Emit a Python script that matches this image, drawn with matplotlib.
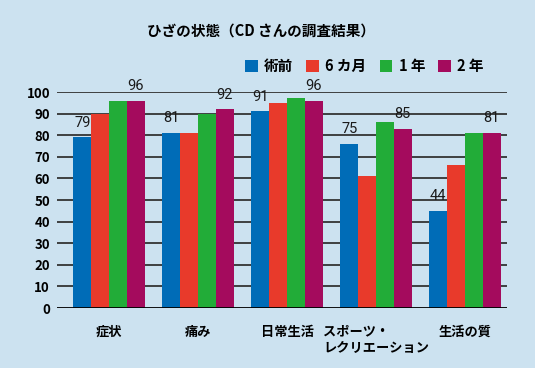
import matplotlib.pyplot as plt
import numpy as np

plt.rcParams['font.family'] = ['Noto Sans CJK JP', 'DejaVu Sans']

categories = ['症状', '痛み', '日常生活', 'スポーツ・\nレクリエーション', '生活の質']
series_names = ['術前', '6 カ月', '1 年', '2 年']
before = [79, 81, 91, 76, 45]
month6 = [90, 81, 95, 61, 66]
year1 = [96, 90, 97, 86, 81]
year2 = [96, 92, 96, 83, 81]
# numbers printed above the bars (術前 and 2 年)
before_labels = ['79', '81', '91', '75', '44']
year2_labels = ['96', '92', '96', '85', '81']

colors = ['#006cb7', '#e83a2b', '#22ac38', '#a40b5d']
bg = '#cce2f0'

fig = plt.figure(figsize=(5.35, 3.68), dpi=100, facecolor=bg)
ax = fig.add_axes([0.1065, 0.163, 0.841, 0.587])
ax.set_facecolor(bg)

x = np.arange(len(categories))
w = 0.2
series = [before, month6, year1, year2]
for i, (vals, c, name) in enumerate(zip(series, colors, series_names)):
    ax.bar(x + (i - 1.5) * w, vals, w, color=c, label=name, zorder=3)

# gridlines
for v in range(10, 101, 10):
    ax.axhline(v, color='#333333', lw=1.3, zorder=2)
ax.axhline(0, color='black', lw=1.3, zorder=4)

for xi, lab, v in zip(x, before_labels, before):
    ax.text(xi - 1.5 * w, v + 3.5, lab, ha='center', va='bottom', fontsize=10.5,
            family='Roboto', color='#1a1a1a', zorder=5)
for xi, lab, v in zip(x, year2_labels, year2):
    ax.text(xi + 1.5 * w, v + 3.5, lab, ha='center', va='bottom', fontsize=10.5,
            family='Roboto', color='#1a1a1a', zorder=5)

ax.set_xlim(-0.584, 4.47)
ax.set_ylim(0, 100)
ax.set_yticks(range(0, 101, 10))
ax.set_yticklabels([str(v) for v in range(0, 101, 10)], fontsize=9.5, fontweight='bold')
ax.set_xticks(x)
ax.set_xticklabels(categories, fontsize=9.5, fontweight='bold', linespacing=1.2)
for t in ax.get_xticklabels():
    t.set_multialignment('left')
ax.tick_params(axis='y', length=0, pad=5)
ax.tick_params(axis='x', length=0, pad=12)
for s in ax.spines.values():
    s.set_visible(False)

fig.text(0.488, 0.917, 'ひざの状態（CD さんの調査結果）', ha='center', va='center',
         fontsize=10.5, fontweight='bold')

leg = fig.legend(loc='center right', bbox_to_anchor=(0.915, 0.82), ncol=4,
                 frameon=False, handlelength=0.85, handleheight=0.85,
                 handletextpad=0.45, columnspacing=0.9, borderaxespad=0,
                 prop={'weight': 'bold', 'size': 10.5})

fig.savefig('out.png', dpi=100, facecolor=bg)
